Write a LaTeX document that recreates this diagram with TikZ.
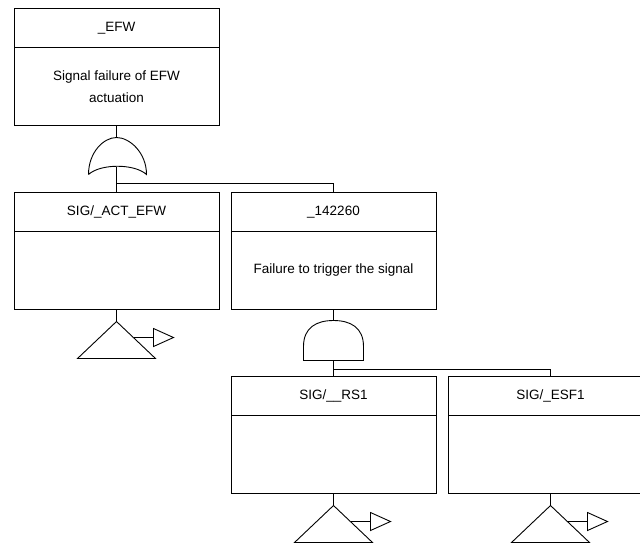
\documentclass[tikz,border=0pt]{standalone}
\usepackage{fontspec}
\setmainfont{Liberation Sans}
\usetikzlibrary{positioning,calc}

\begin{document}
\begin{tikzpicture}[x=1pt,y=-1pt,line width=0.9pt,
 node distance=67pt and 12pt,
 head/.style={draw,outer sep=0pt,inner sep=0pt,minimum width=205pt,minimum height=39pt,
 font=\fontsize{13.5}{16}\selectfont},
 body/.style={draw,outer sep=0pt,inner sep=0pt,minimum width=205pt,minimum height=78pt,
 align=center,font=\fontsize{13.5}{22}\selectfont},
 orgate/.pic={
 \draw (-28,49) .. controls (-28,27) and (-13,12) .. (0,12)
 .. controls (13,12) and (30,27) .. (30,49)
 .. controls (18,38) and (-16,38) .. (-28,49);
 \coordinate (-in) at (0,12);\coordinate (-out) at (0,41);},
 andgate/.pic={
 \draw (-30,51) -- (-30,37) .. controls (-30,18) and (-17,11) .. (0,11)
 .. controls (17,11) and (30,18) .. (30,37) -- (30,51) -- cycle;
 \coordinate (-in) at (0,11);\coordinate (-out) at (0,51);},
 basic/.pic={
 \draw (0,12) -- (39,49) -- (-39,49) -- cycle;
 \draw (17,28) -- (37,28);
 \draw (37,19) -- (57,28) -- (37,37) -- cycle;
 \coordinate (-in) at (0,12);}]
\useasboundingbox (0,0) rectangle (640,547);
\clip (0,0) rectangle (640,547);
% events
\node[head] at (116.5,28) (efw) {\_EFW};
\node[body,below=0pt of efw] (efwd) {Signal failure of EFW\\actuation};
\node[head,below=of efwd] (act) {SIG/\_ACT\_EFW};
\node[body,below=0pt of act] (actd) {};
\node[head,right=of act] (trig) {\_142260};
\node[body,below=0pt of trig] (trigd) {Failure to trigger the signal};
\node[head,below=of trigd] (rs) {SIG/\_\_RS1};
\node[body,below=0pt of rs] (rsd) {};
\node[head,right=of rs] (esf) {SIG/\_ESF1};
\node[body,below=0pt of esf] (esfd) {};
% gates
\pic (g1) at (efwd.south) {orgate};
\pic (g2) at (trigd.south) {andgate};
\draw (efwd.south) -- (g1-in);
\draw (g1-out) -- (act.north);
\coordinate (j1) at ($(act.north)+(0,-9)$);
\draw (j1) -| (trig.north);
\draw (trigd.south) -- (g2-in);
\draw (g2-out) -- (rs.north);
\coordinate (j2) at ($(rs.north)+(0,-7)$);
\draw (j2) -| (esf.north);
% basic events
\pic (e1) at (actd.south) {basic};
\pic (e2) at (rsd.south) {basic};
\pic (e3) at (esfd.south) {basic};
\draw (actd.south) -- (e1-in);
\draw (rsd.south) -- (e2-in);
\draw (esfd.south) -- (e3-in);
\end{tikzpicture}
\end{document}
